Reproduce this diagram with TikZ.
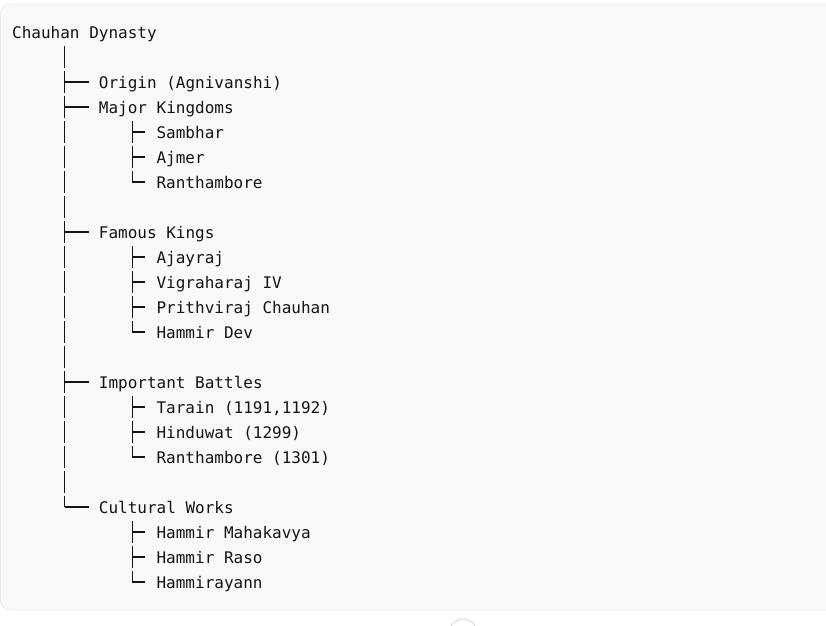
\documentclass[tikz,border=0pt]{standalone}
\usepackage{fontspec}
\setmonofont{DejaVu Sans Mono}
\usetikzlibrary{calc}
\definecolor{bg}{HTML}{F9F9F9}
\definecolor{edge}{HTML}{ECECEC}
\definecolor{txt}{HTML}{141414}
\definecolor{circ}{HTML}{D6D6D6}
\begin{document}
\begin{tikzpicture}[x=1pt,y=-1pt,
  lbl/.style={anchor=base west,inner sep=0pt,font=\ttfamily\fontsize{16}{16}\selectfont,text=txt},
  tree/.style={draw=txt,line width=1.3pt}]
\useasboundingbox (0,0) rectangle (826,625);
\clip (0,0) rectangle (826,625);
\draw[edge,fill=bg,rounded corners=10pt,line width=0.8pt] (0.4,4) rectangle (850,610);
\draw[circ,line width=0.9pt] (463,633) circle (14);
% trunk and sub-branch x positions
\coordinate (tk) at (64.5,0);
\coordinate (sb) at (132.4,0);
% labels (row r: baseline = 38 + 25 r)
\node[lbl] (root) at (12,38) {Chauhan Dynasty};
\node[lbl] (origin) at (98.7,88) {Origin (Agnivanshi)};
\node[lbl] (kingdoms) at (98.7,113) {Major Kingdoms};
\node[lbl] (sambhar) at (156.4,138) {Sambhar};
\node[lbl] (ajmer) at (156.4,163) {Ajmer};
\node[lbl] (ranth) at (156.4,188) {Ranthambore};
\node[lbl] (kings) at (98.7,238) {Famous Kings};
\node[lbl] (ajayraj) at (156.4,263) {Ajayraj};
\node[lbl] (vigraharaj) at (156.4,288) {Vigraharaj IV};
\node[lbl] (prithviraj) at (156.4,313) {Prithviraj Chauhan};
\node[lbl] (hammirdev) at (156.4,338) {Hammir Dev};
\node[lbl] (battles) at (98.7,388) {Important Battles};
\node[lbl] (tarain) at (156.4,413) {Tarain (1191,1192)};
\node[lbl] (hinduwat) at (156.4,438) {Hinduwat (1299)};
\node[lbl] (ranthb) at (156.4,463) {Ranthambore (1301)};
\node[lbl] (cultural) at (98.7,513) {Cultural Works};
\node[lbl] (mahakavya) at (156.4,538) {Hammir Mahakavya};
\node[lbl] (raso) at (156.4,563) {Hammir Raso};
\node[lbl] (hammirayann) at (156.4,588) {Hammirayann};
% trunk segments (one per text row, as the glyphs draw them)
\foreach \r in {1,...,18} {
  \draw[tree] ($(tk)+(0,{32+25*\r-11})$) -- ($(tk)+(0,{32+25*\r+11})$);
}
\draw[tree] ($(tk)+(0,{32+25*19-11})$) -- ($(tk |- cultural.base)+(0,-6)$);
% sub-branch segments
\foreach \r in {4,5,9,10,11,15,16,20,21} {
  \draw[tree] ($(sb)+(0,{32+25*\r-11})$) -- ($(sb)+(0,{32+25*\r+11})$);
}
\foreach \n/\r in {ranth/6,hammirdev/12,ranthb/17,hammirayann/22} {
  \draw[tree] ($(sb)+(0,{32+25*\r-11})$) -- ($(sb |- \n.base)+(0,-6)$);
}
% arms
\foreach \n in {origin,kingdoms,kings,battles,cultural} {
  \draw[tree] ($(tk |- \n.base)+(0,-6)$) -- ([xshift=-10pt,yshift=6pt]\n.base west);
}
\foreach \n in {sambhar,ajmer,ranth,ajayraj,vigraharaj,prithviraj,hammirdev,tarain,hinduwat,ranthb,mahakavya,raso,hammirayann} {
  \draw[tree] ($(sb |- \n.base)+(0,-6)$) -- ([xshift=-11pt,yshift=6pt]\n.base west);
}
\end{tikzpicture}
\end{document}
